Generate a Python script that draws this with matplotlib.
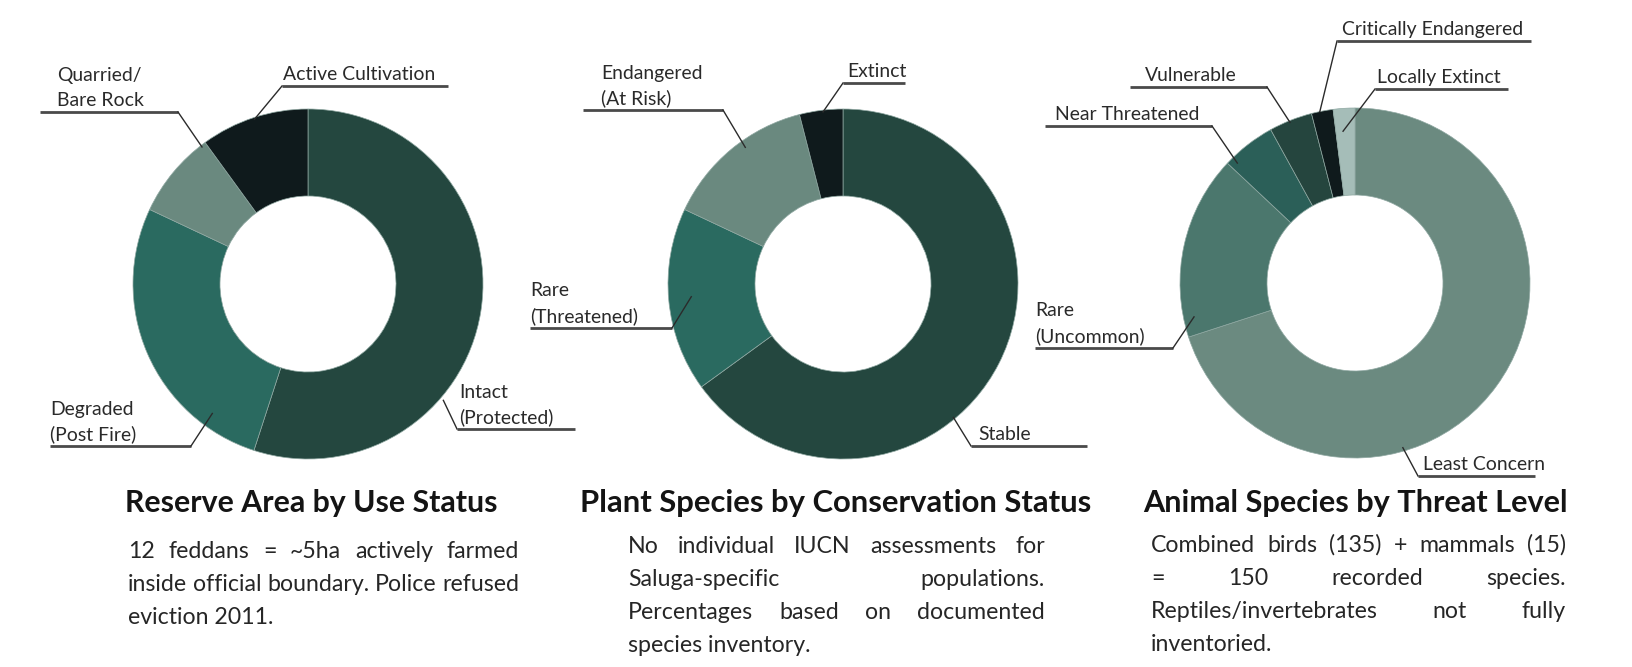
import numpy as np
import matplotlib.pyplot as plt

plt.rcParams['font.family'] = ['Lato', 'DejaVu Sans']

W, H = 1633, 667

# --- data ---
use_labels = ['Intact\n(Protected)', 'Degraded\n(Post Fire)', 'Quarried/\nBare Rock', 'Active Cultivation']
use_values = [55, 27, 8, 10]

plant_labels = ['Stable', 'Rare\n(Threatened)', 'Endangered\n(At Risk)', 'Extinct']
plant_values = [65, 17, 14, 4]

animal_labels = ['Least Concern', 'Rare\n(Uncommon)', 'Near Threatened', 'Vulnerable',
                 'Critically Endangered', 'Locally Extinct']
animal_values = [70, 17, 5, 4, 2, 2]

titles = ['Reserve Area by Use Status', 'Plant Species by Conservation Status',
          'Animal Species by Threat Level']
notes = [
    ['12 feddans = ~5ha actively farmed', 'inside official boundary. Police refused', 'eviction 2011.'],
    ['No individual IUCN assessments for', 'Saluga-specific populations.',
     'Percentages based on documented', 'species inventory.'],
    ['Combined birds (135) + mammals (15)', '= 150 recorded species.',
     'Reptiles/invertebrates not fully', 'inventoried.'],
]

# --- styling / layout ---
c_dark, c_teal, c_gray, c_black = '#24473f', '#2a6a60', '#6a897f', '#0f1a1c'
use_colors = [c_dark, c_teal, c_gray, c_black]
plant_colors = [c_dark, c_teal, c_gray, c_black]
animal_colors = ['#6b8a80', '#4b776d', '#2b5f58', '#25453e', '#0f1a1c', '#a5bdb8']

centers = [(308, 284), (843, 284), (1355, 283)]
R, r_in = 175, 88

# per label: underline y, underline x0, x1, leader side (0 = left end, 1 = right end),
# text x, anchor position inside slice (fraction of span), anchor radius (fraction of R)
use_lay = [(429, 457, 575, 0, 459, 0.66, 1.02),
           (446, 50, 191, 1, 50, 0.19, 0.92),
           (112, 40, 178, 1, 57, 0.94, 0.99),
           (86, 282, 448, 0, 283, 0.50, 0.99)]
plant_lay = [(446, 971, 1087, 0, 978, 0.60, 0.99),
             (328, 530, 672, 1, 530, 0.51, 0.87),
             (110, 583, 723, 1, 601, 0.58, 0.96),
             (83, 843, 905, 0, 847, 0.54, 0.99)]
animal_lay = [(476, 1418, 1535, 0, 1423, 0.65, 0.98),
              (348, 1035, 1173, 1, 1035, 0.10, 0.94),
              (126, 1045, 1212, 1, 1055, 0.13, 0.96),
              (87, 1130, 1267, 1, 1145, 0.47, 0.99),
              (41, 1337, 1531, 0, 1342, 0.39, 1.00),
              (89, 1375, 1508, 0, 1377, 0.375, 0.87)]

title_x = [311, 836, 1355]
title_w = [373, 512, 425]
title_y = 512
note_box = [(128, 519, 558), (628, 1045, 553), (1151, 1566, 552)]
note_step = 33

fig = plt.figure(figsize=(W / 100, H / 100), dpi=100)
ax = fig.add_axes([0, 0, 1, 1])
ax.set_xlim(0, W)
ax.set_ylim(H, 0)
rend = fig.canvas.get_renderer()


def text_w(s, **kw):
    t = ax.text(0, 0, s, **kw)
    w = t.get_window_extent(rend).width
    t.remove()
    return w


# font sizes matched to text widths in the reference
lab_fs = 12 * 152 / text_w('Active Cultivation', fontsize=12)
note_fs = 13.5 * 392 / text_w('inside official boundary. Police refused', fontsize=13.5)

charts = [(use_labels, use_values, use_colors, use_lay),
          (plant_labels, plant_values, plant_colors, plant_lay),
          (animal_labels, animal_values, animal_colors, animal_lay)]

for (labels, values, colors, lay), (cx, cy) in zip(charts, centers):
    ax.pie(values, colors=colors, center=(cx, cy), radius=R, startangle=-90,
           counterclock=True,
           wedgeprops=dict(width=R - r_in, edgecolor='#8fa8a2', linewidth=0.5))
    vals = np.array(values, dtype=float)
    starts = np.concatenate([[0], np.cumsum(vals)[:-1]]) / vals.sum() * 360
    spans = vals / vals.sum() * 360
    for lab, st, sp, (uy, x0, x1, side, tx, fr, rf) in zip(labels, starts, spans, lay):
        th = np.radians(st + fr * sp)
        axx = cx + rf * R * np.sin(th)
        axy = cy - rf * R * np.cos(th)
        ex = x1 if side else x0
        ax.plot([x0, x1], [uy, uy], color='#4a4a4a', lw=2, solid_capstyle='butt')
        ax.plot([ex, axx], [uy, axy], color='#2b2b2b', lw=1)
        lines = lab.split('\n')
        for k, ln in enumerate(lines):
            by = uy - 6 - 25.5 * (len(lines) - 1 - k)
            ax.text(tx, by, ln, fontsize=lab_fs, color='#2a2a2a', va='baseline', ha='left')

ax.set_xlim(0, W)
ax.set_ylim(H, 0)
ax.axis('off')

# titles, sized to the width they take in the reference
for tt, tx, tw in zip(titles, title_x, title_w):
    fs = 17 * tw / text_w(tt, fontsize=17, fontweight='bold')
    ax.text(tx, title_y, tt, fontsize=fs, fontweight='bold', color='#141414',
            ha='center', va='baseline')

# justified notes
for lines, (xl, xr, y0) in zip(notes, note_box):
    for i, ln in enumerate(lines):
        y = y0 + i * note_step
        words = ln.split(' ')
        if i == len(lines) - 1 or len(words) == 1:
            ax.text(xl, y, ln, fontsize=note_fs, color='#262626', va='baseline')
            continue
        ws = [text_w(w, fontsize=note_fs) for w in words]
        gap = (xr - xl - sum(ws)) / (len(words) - 1)
        x = xl
        for w, wd in zip(words, ws):
            ax.text(x, y, w, fontsize=note_fs, color='#262626', va='baseline')
            x += wd + gap

fig.savefig('out.png', dpi=100, facecolor='white')
